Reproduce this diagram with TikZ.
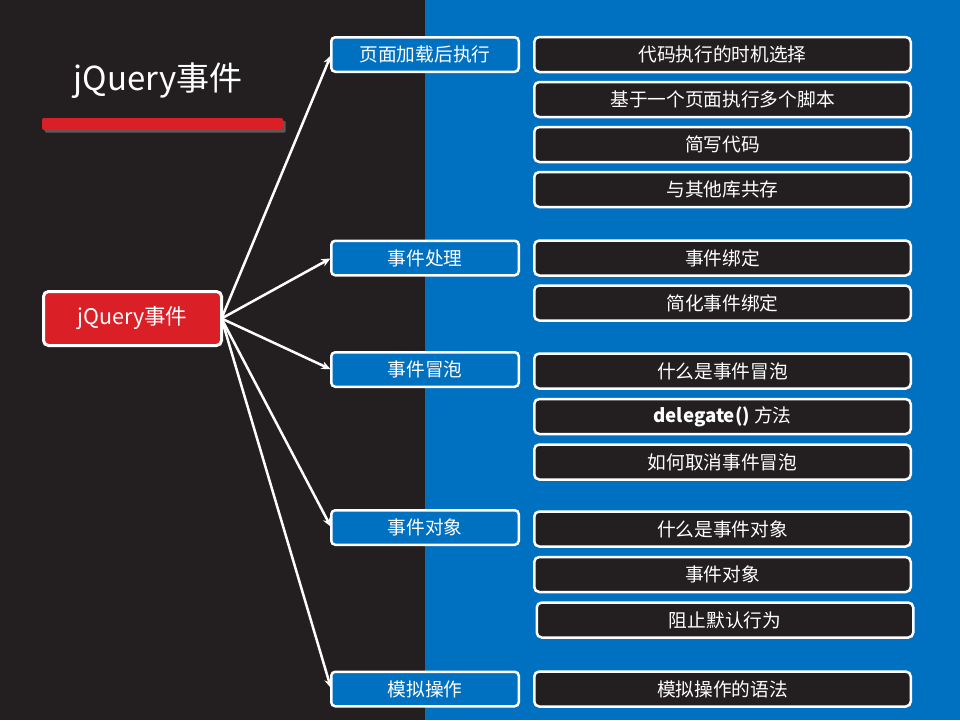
\documentclass[tikz,border=0pt]{standalone}
\usepackage{fontspec}
\setmainfont{Noto Sans CJK SC}
\usepackage{tikz}
\usetikzlibrary{arrows, arrows.meta, positioning, shadows}
\usepackage{xcolor}
\definecolor{darkbg}{HTML}{231F20}
\definecolor{bluebg}{HTML}{0070C0}
\definecolor{jqred}{HTML}{DA1F26}

\begin{document}
\begin{tikzpicture}[
            x = 1pt, y = -1pt, % pixel units, y down
            > = {Stealth[length=9pt, width=8pt]}, % arrow head style
            shorten > = 1pt,
            line width = 2.5pt,
            font = \fontsize{18.7}{22}\selectfont
        ]

        \tikzstyle{root}=[
            draw = white, fill = jqred, text = white,
            rounded corners = 5pt, line width = 3pt, outer sep = 0pt,
            minimum width = 178pt, minimum height = 54pt,
            font = \fontsize{21.5}{25}\selectfont
        ]
        \tikzstyle{topic}=[
            draw = white, fill = bluebg, text = white,
            rounded corners = 4pt, line width = 2.5pt, outer sep = 0pt,
            minimum width = 187.5pt, minimum height = 34.5pt
        ]
        \tikzstyle{leaf}=[
            draw = white, fill = darkbg, text = white,
            rounded corners = 5pt, line width = 2.5pt, outer sep = 0pt,
            minimum width = 376.5pt, minimum height = 35pt
        ]

        % fondo
        \useasboundingbox (0,0) rectangle (960,720);
        \fill[darkbg] (0,0) rectangle (425,720);
        \fill[bluebg] (425,0) rectangle (960,720);

        % titolo
        \node[text = white, font = \fontsize{33}{38}\selectfont] (title) at (158,81) {jQuery事件};
        \fill[jqred, rounded corners = 2pt, drop shadow = {opacity = 0.6}] (42,118) rectangle (283,130);

        % radice
        \node[root] (root) at (132.5,318.5) {jQuery事件};

        % rami
        \node[topic] (load)   at (425,54.5) {页面加载后执行};
        \node[topic] (handle) at (425,258)  {事件处理};
        \node[topic] (bubble) at (425,369.5) {事件冒泡};
        \node[topic] (object) at (425,527.5) {事件对象};
        \node[topic] (sim)    at (425,689)  {模拟操作};

        \draw[->, white] (root.east) -- (load.west);
        \draw[->, white] (root.east) -- (handle.west);
        \draw[->, white] (root.east) -- (bubble.west);
        \draw[->, white] (root.east) -- (object.west);
        \draw[->, white] (root.east) -- (sim.west);

        % foglie
        \node[leaf] (l11) [right = 15.5pt of load] {代码执行的时机选择};
        \node[leaf] (l12) [below = 10pt of l11]    {基于一个页面执行多个脚本};
        \node[leaf] (l13) [below = 10pt of l12]    {简写代码};
        \node[leaf] (l14) [below = 10pt of l13]    {与其他库共存};

        \node[leaf] (l21) [right = 15.5pt of handle] {事件绑定};
        \node[leaf] (l22) [below = 10pt of l21]    {简化事件绑定};

        \node[leaf] (l31) at (722.5,371)           {什么是事件冒泡};
        \node[leaf] (l32) [below = 10.5pt of l31]  {\textbf{delegate()} 方法};
        \node[leaf] (l33) [below = 10.5pt of l32]  {如何取消事件冒泡};

        \node[leaf] (l41) at (722.5,529)           {什么是事件对象};
        \node[leaf] (l42) [below = 10.5pt of l41]  {事件对象};
        \node[leaf] (l43) [below = 10.5pt of l42, xshift = 2.5pt] {阻止默认行为};

        \node[leaf] (l51) [right = 15.5pt of sim]  {模拟操作的语法};

\end{tikzpicture}
\end{document}
